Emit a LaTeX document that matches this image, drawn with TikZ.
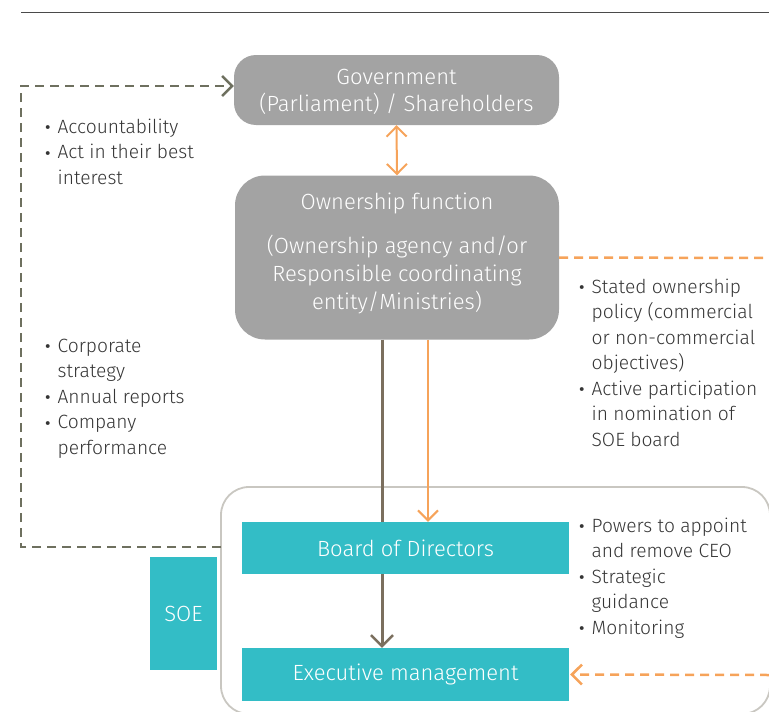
\documentclass[tikz,border=0pt]{standalone}
\usepackage{fontspec}
\usepackage{graphicx}
\setmainfont{Fira Sans Light}
\usetikzlibrary{arrows.meta,positioning,calc}
\definecolor{boxgray}{HTML}{A3A3A3}
\definecolor{teal}{HTML}{33BDC6}
\definecolor{orng}{HTML}{F6A35A}
\definecolor{brn}{HTML}{7B6F5E}
\definecolor{dgreen}{HTML}{6E705F}
\definecolor{soeline}{HTML}{C9C7C1}
\definecolor{txt}{HTML}{353535}
\definecolor{rule}{HTML}{4A4A4A}
\newcommand{\bul}{\raisebox{-3.8pt}{\scalebox{1.35}{\textbullet}}}
\begin{document}
\begin{tikzpicture}[x=1pt,y=-1pt,
  graybox/.style={fill=boxgray,draw=none,rounded corners=#1,text=white,inner sep=0pt},
  tealbox/.style={fill=teal,draw=none,text=white,inner sep=0pt,font=\fontsize{22}{26}\selectfont},
  boxtext/.style={text=white,align=center,inner sep=0pt,anchor=base},
  blist/.style={anchor=base west,inner sep=0pt,text=txt,font=\fontsize{19.2}{25.5}\selectfont},
  barb/.tip={Straight Barb[length=10pt,width=20pt,line width=2pt]},
  orngarrow/.style={draw=orng,line width=2pt},
  brnline/.style={draw=brn,line width=3pt},
  dgdash/.style={draw=dgreen,line width=2.5pt,dash pattern=on 9pt off 6pt},
  ordash/.style={draw=orng,line width=2.5pt,dash pattern=on 9pt off 6pt}]
\useasboundingbox (0,0) rectangle (769,712);
% top rule
\draw[rule,line width=1.6pt] (21,12.5) -- (769,12.5);
% SOE container
\draw[soeline,line width=1.8pt,rounded corners=28pt] (221,487) rectangle (770,714);
% boxes
\node[graybox=22pt,minimum width=325pt,minimum height=70pt] (gov) at (396.5,90) {};
\node[boxtext,font=\fontsize{22}{27}\selectfont] (govt) at (396.5,111) {Government\\(Parliament) / Shareholders};
\node[graybox=30pt,minimum width=324pt,minimum height=164pt] (own) at (397,257.5) {};
\node[boxtext,font=\fontsize{22}{28}\selectfont] (ownt1) at (397,209.5) {Ownership function};
\node[boxtext,font=\fontsize{22}{28}\selectfont] (ownt2) at (397,309.5) {(Ownership agency and/or\\Responsible coordinating\\entity/Ministries)};
\node[tealbox,minimum width=327pt,minimum height=52pt] (board) at (405.5,548) {Board of Directors};
\node[tealbox,minimum width=327pt,minimum height=53pt] (exec) at (405.5,674.5) {Executive management};
\node[tealbox,minimum width=67pt,minimum height=113pt] (soe) at (183.5,613.5) {SOE};
% connectors
\coordinate (bx) at (382,0);
\coordinate (ox) at (428,0);
\coordinate (lx) at (21,0);
\coordinate (rtop) at (769,258);
\coordinate (rbot) at (769,675);
\coordinate (soeleft) at (221,547);
\draw[orngarrow,{barb}-{barb}] (gov.south) -- (own.north);
\draw[brnline] (own.south -| bx) -- (board.north -| bx);
\draw[brnline,-{Straight Barb[length=11pt,width=22pt,line width=2.5pt]}] (board.south -| bx) -- (exec.north -| bx);
\draw[orngarrow,-{barb}] (own.south -| ox) -- (board.north -| ox);
\draw[dgdash,-{Straight Barb[length=10pt,width=20pt,line width=2.5pt]}] (soeleft) -| (lx |- 0,86) -- (gov.west |- 0,86);
\draw[ordash] (own.east) -- (rtop);
\draw[ordash,-{Straight Barb[length=10pt,width=20pt,line width=2.5pt]}] (rbot) -- ([xshift=1pt]exec.east);
% bullet lists
\node[blist] (l1) at (44,133) {\begin{tabular}[t]{@{}l@{\hspace{6pt}}l@{}}\bul & Accountability\\ \bul & Act in their best\\ & interest\end{tabular}};
\node[blist] (l2) at (44,352) {\begin{tabular}[t]{@{}l@{\hspace{6pt}}l@{}}\bul & Corporate\\ & strategy\\ \bul & Annual reports\\ \bul & Company\\ & performance\end{tabular}};
\node[blist] (r1) at (578,293) {\begin{tabular}[t]{@{}l@{\hspace{6pt}}l@{}}\bul & Stated ownership\\ & policy (commercial\\ & or non-commercial\\ & objectives)\\ \bul & Active participation\\ & in nomination of\\ & SOE board\end{tabular}};
\node[blist] (r2) at (578,532) {\begin{tabular}[t]{@{}l@{\hspace{6pt}}l@{}}\bul & Powers to appoint\\ & and remove CEO\\ \bul & Strategic\\ & guidance\\ \bul & Monitoring\end{tabular}};
\end{tikzpicture}
\end{document}
